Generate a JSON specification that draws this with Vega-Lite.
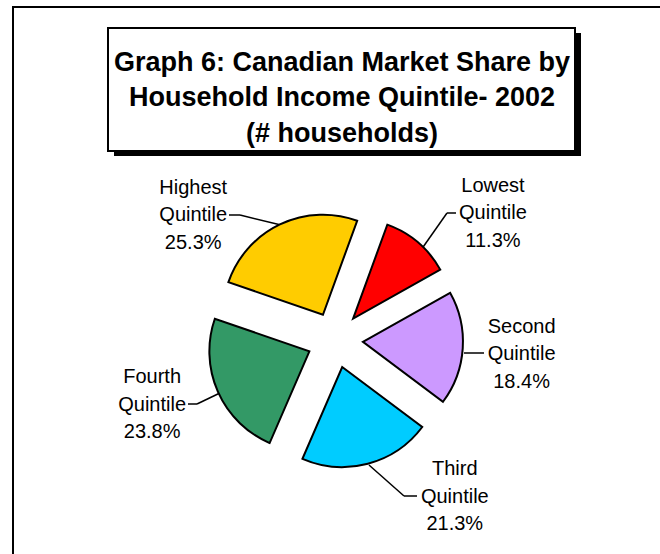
{
  "$schema": "https://vega.github.io/schema/vega-lite/v6.json",
  "autosize": "none",
  "padding": {"left": 13, "top": 7, "right": 0, "bottom": 0},
  "background": "white",
  "width": 650,
  "height": 666,
  "config": {"view": {"stroke": "black", "strokeWidth": 2}, "font": "Liberation Sans"},
  "title": {
    "text": ["Graph 6: Canadian Market Share by", "Household Income Quintile- 2002", "(# households)"],
    "anchor": "middle", "frame": "group", "orient": "top", "baseline": "middle",
    "offset": -153.5, "dx": 4, "zindex": 1,
    "font": "Liberation Sans", "fontSize": 27, "fontWeight": "bold", "lineHeight": 35.5, "color": "black"
  },
  "data": {"values": [
    {"Name": "Lowest", "Rank": 1, "Share": 11.3},
    {"Name": "Second", "Rank": 2, "Share": 18.4},
    {"Name": "Third", "Rank": 3, "Share": 21.3},
    {"Name": "Fourth", "Rank": 4, "Share": 23.8},
    {"Name": "Highest", "Rank": 5, "Share": 25.3}
  ]},
  "layer": [
    {
      "data": {"values": [{"box": "shadow"}]},
      "mark": {"type": "rect", "fill": "black"},
      "encoding": {"x": {"value": 101}, "x2": {"value": 568}, "y": {"value": 26}, "y2": {"value": 149}}
    },
    {
      "data": {"values": [{"box": "frame"}]},
      "mark": {"type": "rect", "fill": "white", "stroke": "black", "strokeWidth": 2},
      "encoding": {"x": {"value": 95}, "x2": {"value": 562}, "y": {"value": 21}, "y2": {"value": 144}}
    },
    {"data": {"values": [{"leader": "Lowest"}]}, "mark": {"type": "rule", "stroke": "black", "strokeWidth": 1.5},
      "encoding": {"x": {"value": 434}, "y": {"value": 206}, "x2": {"value": 443}, "y2": {"value": 206}}},
    {"data": {"values": [{"leader": "Lowest"}]}, "mark": {"type": "rule", "stroke": "black", "strokeWidth": 1.5},
      "encoding": {"x": {"value": 434}, "y": {"value": 206}, "x2": {"value": 408}, "y2": {"value": 243}}},
    {"data": {"values": [{"leader": "Second"}]}, "mark": {"type": "rule", "stroke": "black", "strokeWidth": 1.5},
      "encoding": {"x": {"value": 451}, "y": {"value": 346}, "x2": {"value": 471}, "y2": {"value": 346}}},
    {"data": {"values": [{"leader": "Third"}]}, "mark": {"type": "rule", "stroke": "black", "strokeWidth": 1.5},
      "encoding": {"x": {"value": 391}, "y": {"value": 489}, "x2": {"value": 404}, "y2": {"value": 489}}},
    {"data": {"values": [{"leader": "Third"}]}, "mark": {"type": "rule", "stroke": "black", "strokeWidth": 1.5},
      "encoding": {"x": {"value": 391}, "y": {"value": 489}, "x2": {"value": 356}, "y2": {"value": 458}}},
    {"data": {"values": [{"leader": "Fourth"}]}, "mark": {"type": "rule", "stroke": "black", "strokeWidth": 1.5},
      "encoding": {"x": {"value": 175}, "y": {"value": 397}, "x2": {"value": 184}, "y2": {"value": 397}}},
    {"data": {"values": [{"leader": "Fourth"}]}, "mark": {"type": "rule", "stroke": "black", "strokeWidth": 1.5},
      "encoding": {"x": {"value": 184}, "y": {"value": 397}, "x2": {"value": 209}, "y2": {"value": 385}}},
    {"data": {"values": [{"leader": "Highest"}]}, "mark": {"type": "rule", "stroke": "black", "strokeWidth": 1.5},
      "encoding": {"x": {"value": 216}, "y": {"value": 208}, "x2": {"value": 227}, "y2": {"value": 208}}},
    {"data": {"values": [{"leader": "Highest"}]}, "mark": {"type": "rule", "stroke": "black", "strokeWidth": 1.5},
      "encoding": {"x": {"value": 227}, "y": {"value": 208}, "x2": {"value": 268}, "y2": {"value": 218}}},
    {
      "mark": {"type": "arc", "radius": 100, "stroke": "black", "strokeWidth": 2,
        "x": {"expr": "width/2 - 3 + 28*sin(scale('theta', (datum.Share_start + datum.Share_end)/2))"},
        "y": {"expr": "height/2 - 28*cos(scale('theta', (datum.Share_start + datum.Share_end)/2))"}},
      "encoding": {
        "theta": {"field": "Share", "type": "quantitative", "stack": true, "scale": {"range": [0.3491, 6.6323]}},
        "order": {"field": "Rank", "type": "quantitative"},
        "color": {"field": "Name", "type": "nominal", "legend": null,
          "scale": {"domain": ["Lowest", "Second", "Third", "Fourth", "Highest"], "range": ["#FF0000", "#CC99FF", "#00CCFF", "#339966", "#FFCC00"]}}
      }
    },
    {
      "transform": [{"calculate": "datum.Name + '\\nQuintile\\n' + format(datum.Share, '.1f') + '%'", "as": "label"}],
      "mark": {"type": "text", "radius": 190, "font": "Liberation Sans", "fontSize": 20, "lineBreak": "\n", "lineHeight": 27.5, "align": "center", "baseline": "middle", "fill": "black",
        "dx": {"expr": "datum.Name == 'Lowest' ? 32 : datum.Name == 'Second' ? -6 : datum.Name == 'Third' ? 68 : datum.Name == 'Fourth' ? -12 : -63"},
        "dy": {"expr": "datum.Name == 'Lowest' ? -9.5 : datum.Name == 'Second' ? -25.5 : datum.Name == 'Third' ? -54.5 : datum.Name == 'Fourth' ? -39.5 : 19.5"}},
      "encoding": {
        "theta": {"field": "Share", "type": "quantitative", "stack": true},
        "order": {"field": "Rank", "type": "quantitative"},
        "detail": {"field": "Name", "type": "nominal"},
        "text": {"field": "label", "type": "nominal"}
      }
    }
  ]
}
